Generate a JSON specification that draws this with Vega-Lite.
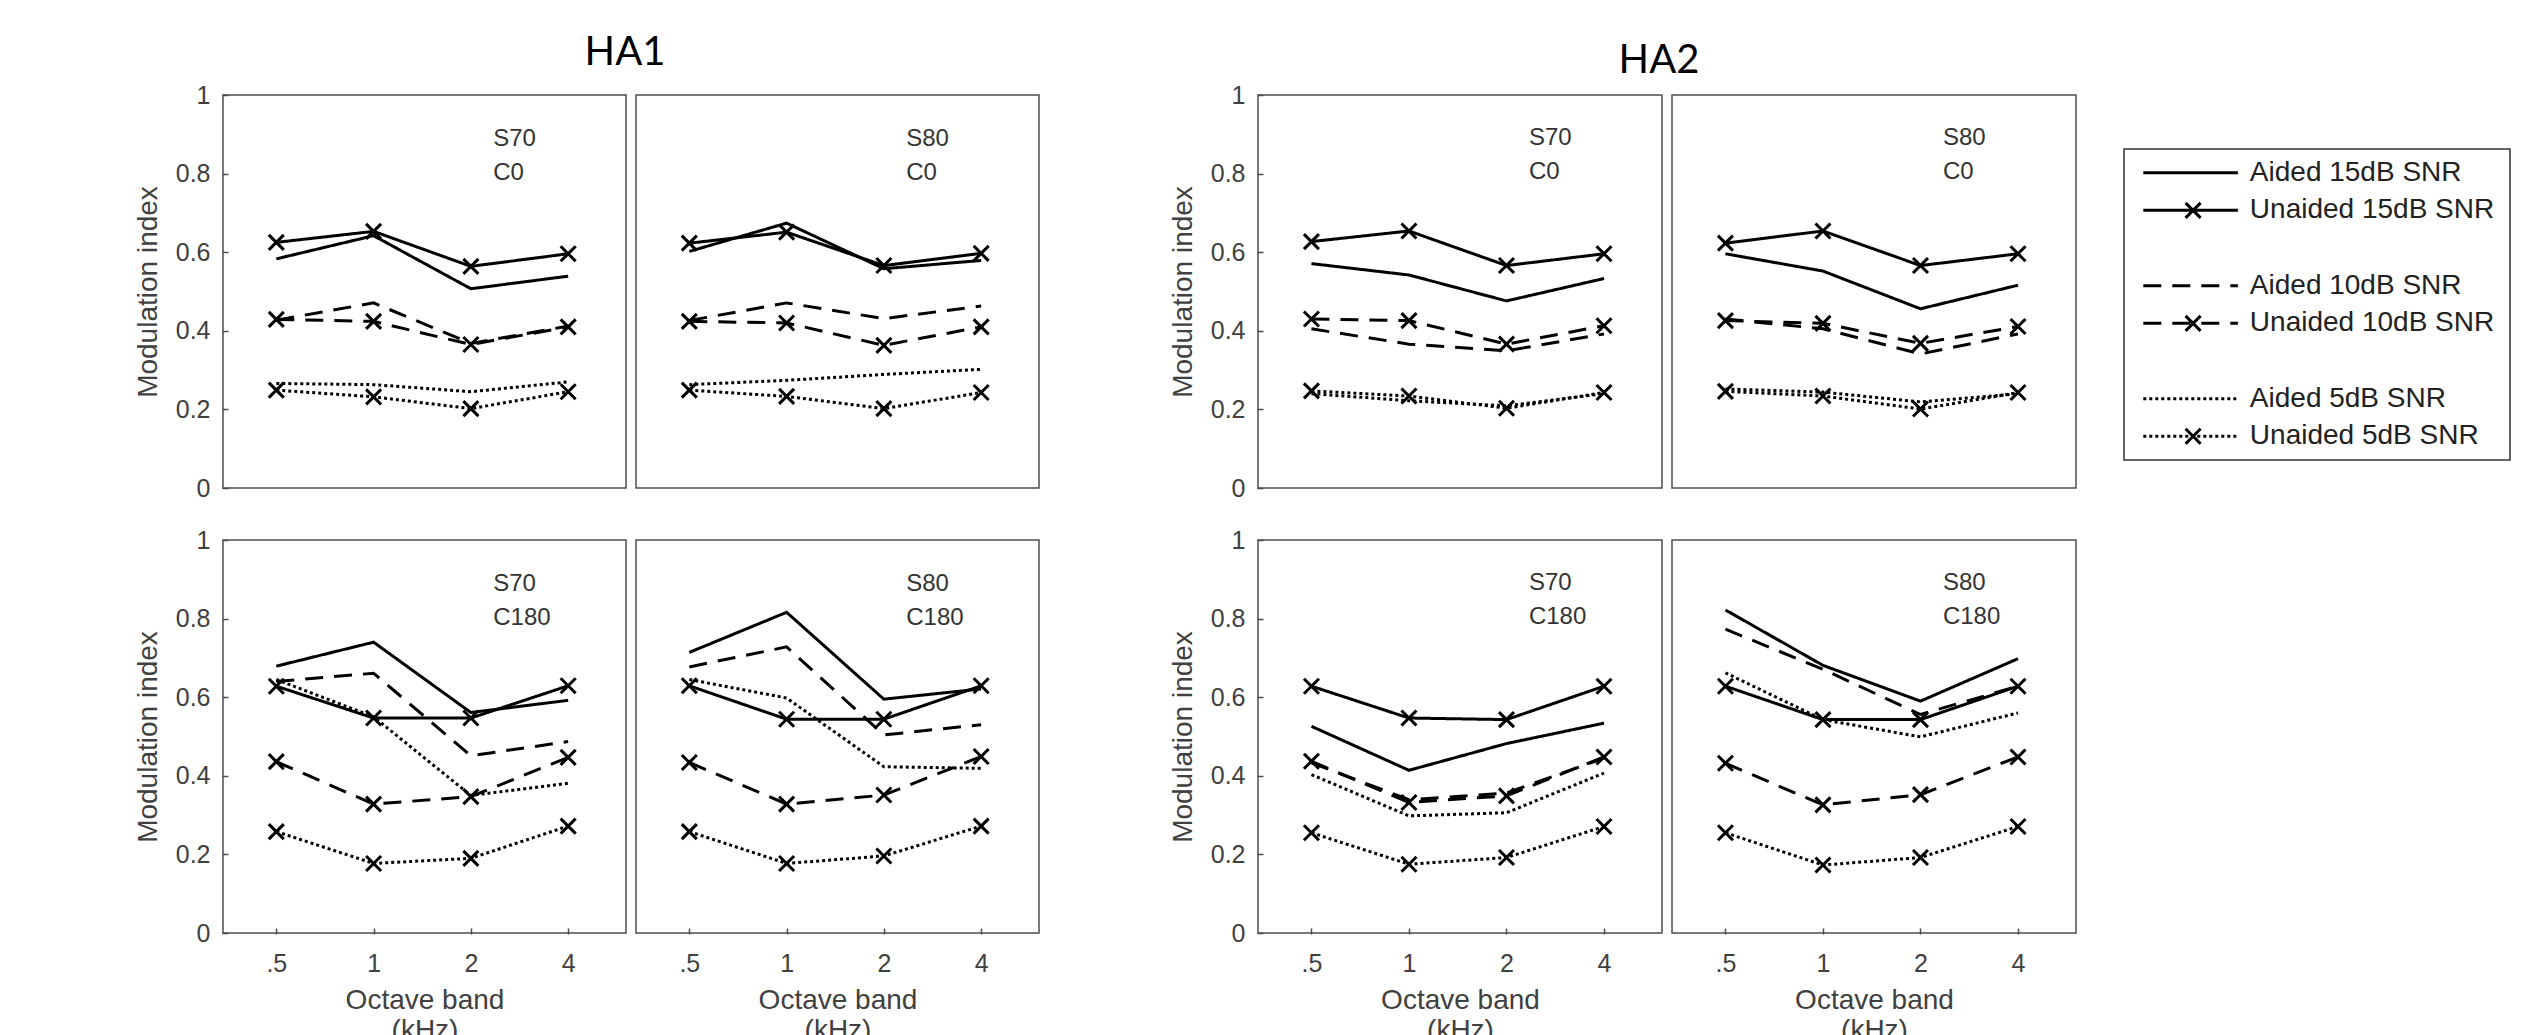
{
"$schema": "https://vega.github.io/schema/vega-lite/v6.json",
"background": "white",
"padding": {"left": 134, "top": 33, "right": 0, "bottom": 0},
"config": {
  "view": {"stroke": "#4d4d4d", "strokeWidth": 1.5},
  "font": "Liberation Sans",
  "axis": {"domain": false, "grid": false, "ticks": true, "tickColor": "#4d4d4d", "tickSize": -6, "tickWidth": 1.5, "labelColor": "#404040", "labelFont": "Liberation Sans", "labelFontSize": 25, "titleColor": "#404040", "titleFont": "Liberation Sans", "titleFontSize": 28, "titleFontWeight": "normal"}
},
"datasets": {
"main": [
{"ha":"HA1","s":"S70","c":"C0","aid":"Aided","snr":"15dB","band":0.5,"v":0.583},{"ha":"HA1","s":"S70","c":"C0","aid":"Aided","snr":"15dB","band":1,"v":0.642},{"ha":"HA1","s":"S70","c":"C0","aid":"Aided","snr":"15dB","band":2,"v":0.507},{"ha":"HA1","s":"S70","c":"C0","aid":"Aided","snr":"15dB","band":4,"v":0.539},
{"ha":"HA1","s":"S70","c":"C0","aid":"Unaided","snr":"15dB","band":0.5,"v":0.625},{"ha":"HA1","s":"S70","c":"C0","aid":"Unaided","snr":"15dB","band":1,"v":0.653},{"ha":"HA1","s":"S70","c":"C0","aid":"Unaided","snr":"15dB","band":2,"v":0.564},{"ha":"HA1","s":"S70","c":"C0","aid":"Unaided","snr":"15dB","band":4,"v":0.596},
{"ha":"HA1","s":"S70","c":"C0","aid":"Aided","snr":"10dB","band":0.5,"v":0.427},{"ha":"HA1","s":"S70","c":"C0","aid":"Aided","snr":"10dB","band":1,"v":0.471},{"ha":"HA1","s":"S70","c":"C0","aid":"Aided","snr":"10dB","band":2,"v":0.368},{"ha":"HA1","s":"S70","c":"C0","aid":"Aided","snr":"10dB","band":4,"v":0.412},
{"ha":"HA1","s":"S70","c":"C0","aid":"Unaided","snr":"10dB","band":0.5,"v":0.429},{"ha":"HA1","s":"S70","c":"C0","aid":"Unaided","snr":"10dB","band":1,"v":0.424},{"ha":"HA1","s":"S70","c":"C0","aid":"Unaided","snr":"10dB","band":2,"v":0.365},{"ha":"HA1","s":"S70","c":"C0","aid":"Unaided","snr":"10dB","band":4,"v":0.410},
{"ha":"HA1","s":"S70","c":"C0","aid":"Aided","snr":"5dB","band":0.5,"v":0.266},{"ha":"HA1","s":"S70","c":"C0","aid":"Aided","snr":"5dB","band":1,"v":0.263},{"ha":"HA1","s":"S70","c":"C0","aid":"Aided","snr":"5dB","band":2,"v":0.245},{"ha":"HA1","s":"S70","c":"C0","aid":"Aided","snr":"5dB","band":4,"v":0.270},
{"ha":"HA1","s":"S70","c":"C0","aid":"Unaided","snr":"5dB","band":0.5,"v":0.249},{"ha":"HA1","s":"S70","c":"C0","aid":"Unaided","snr":"5dB","band":1,"v":0.232},{"ha":"HA1","s":"S70","c":"C0","aid":"Unaided","snr":"5dB","band":2,"v":0.202},{"ha":"HA1","s":"S70","c":"C0","aid":"Unaided","snr":"5dB","band":4,"v":0.245},

{"ha":"HA1","s":"S80","c":"C0","aid":"Aided","snr":"15dB","band":0.5,"v":0.602},{"ha":"HA1","s":"S80","c":"C0","aid":"Aided","snr":"15dB","band":1,"v":0.674},{"ha":"HA1","s":"S80","c":"C0","aid":"Aided","snr":"15dB","band":2,"v":0.558},{"ha":"HA1","s":"S80","c":"C0","aid":"Aided","snr":"15dB","band":4,"v":0.579},
{"ha":"HA1","s":"S80","c":"C0","aid":"Unaided","snr":"15dB","band":0.5,"v":0.623},{"ha":"HA1","s":"S80","c":"C0","aid":"Unaided","snr":"15dB","band":1,"v":0.651},{"ha":"HA1","s":"S80","c":"C0","aid":"Unaided","snr":"15dB","band":2,"v":0.566},{"ha":"HA1","s":"S80","c":"C0","aid":"Unaided","snr":"15dB","band":4,"v":0.597},
{"ha":"HA1","s":"S80","c":"C0","aid":"Aided","snr":"10dB","band":0.5,"v":0.426},{"ha":"HA1","s":"S80","c":"C0","aid":"Aided","snr":"10dB","band":1,"v":0.471},{"ha":"HA1","s":"S80","c":"C0","aid":"Aided","snr":"10dB","band":2,"v":0.431},{"ha":"HA1","s":"S80","c":"C0","aid":"Aided","snr":"10dB","band":4,"v":0.463},
{"ha":"HA1","s":"S80","c":"C0","aid":"Unaided","snr":"10dB","band":0.5,"v":0.424},{"ha":"HA1","s":"S80","c":"C0","aid":"Unaided","snr":"10dB","band":1,"v":0.420},{"ha":"HA1","s":"S80","c":"C0","aid":"Unaided","snr":"10dB","band":2,"v":0.363},{"ha":"HA1","s":"S80","c":"C0","aid":"Unaided","snr":"10dB","band":4,"v":0.410},
{"ha":"HA1","s":"S80","c":"C0","aid":"Aided","snr":"5dB","band":0.5,"v":0.263},{"ha":"HA1","s":"S80","c":"C0","aid":"Aided","snr":"5dB","band":1,"v":0.274},{"ha":"HA1","s":"S80","c":"C0","aid":"Aided","snr":"5dB","band":2,"v":0.289},{"ha":"HA1","s":"S80","c":"C0","aid":"Aided","snr":"5dB","band":4,"v":0.302},
{"ha":"HA1","s":"S80","c":"C0","aid":"Unaided","snr":"5dB","band":0.5,"v":0.249},{"ha":"HA1","s":"S80","c":"C0","aid":"Unaided","snr":"5dB","band":1,"v":0.233},{"ha":"HA1","s":"S80","c":"C0","aid":"Unaided","snr":"5dB","band":2,"v":0.202},{"ha":"HA1","s":"S80","c":"C0","aid":"Unaided","snr":"5dB","band":4,"v":0.243},

{"ha":"HA1","s":"S70","c":"C180","aid":"Aided","snr":"15dB","band":0.5,"v":0.679},{"ha":"HA1","s":"S70","c":"C180","aid":"Aided","snr":"15dB","band":1,"v":0.740},{"ha":"HA1","s":"S70","c":"C180","aid":"Aided","snr":"15dB","band":2,"v":0.561},{"ha":"HA1","s":"S70","c":"C180","aid":"Aided","snr":"15dB","band":4,"v":0.592},
{"ha":"HA1","s":"S70","c":"C180","aid":"Unaided","snr":"15dB","band":0.5,"v":0.628},{"ha":"HA1","s":"S70","c":"C180","aid":"Unaided","snr":"15dB","band":1,"v":0.547},{"ha":"HA1","s":"S70","c":"C180","aid":"Unaided","snr":"15dB","band":2,"v":0.547},{"ha":"HA1","s":"S70","c":"C180","aid":"Unaided","snr":"15dB","band":4,"v":0.629},
{"ha":"HA1","s":"S70","c":"C180","aid":"Aided","snr":"10dB","band":0.5,"v":0.640},{"ha":"HA1","s":"S70","c":"C180","aid":"Aided","snr":"10dB","band":1,"v":0.661},{"ha":"HA1","s":"S70","c":"C180","aid":"Aided","snr":"10dB","band":2,"v":0.451},{"ha":"HA1","s":"S70","c":"C180","aid":"Aided","snr":"10dB","band":4,"v":0.487},
{"ha":"HA1","s":"S70","c":"C180","aid":"Unaided","snr":"10dB","band":0.5,"v":0.436},{"ha":"HA1","s":"S70","c":"C180","aid":"Unaided","snr":"10dB","band":1,"v":0.328},{"ha":"HA1","s":"S70","c":"C180","aid":"Unaided","snr":"10dB","band":2,"v":0.347},{"ha":"HA1","s":"S70","c":"C180","aid":"Unaided","snr":"10dB","band":4,"v":0.447},
{"ha":"HA1","s":"S70","c":"C180","aid":"Aided","snr":"5dB","band":0.5,"v":0.645},{"ha":"HA1","s":"S70","c":"C180","aid":"Aided","snr":"5dB","band":1,"v":0.550},{"ha":"HA1","s":"S70","c":"C180","aid":"Aided","snr":"5dB","band":2,"v":0.350},{"ha":"HA1","s":"S70","c":"C180","aid":"Aided","snr":"5dB","band":4,"v":0.381},
{"ha":"HA1","s":"S70","c":"C180","aid":"Unaided","snr":"5dB","band":0.5,"v":0.258},{"ha":"HA1","s":"S70","c":"C180","aid":"Unaided","snr":"5dB","band":1,"v":0.177},{"ha":"HA1","s":"S70","c":"C180","aid":"Unaided","snr":"5dB","band":2,"v":0.190},{"ha":"HA1","s":"S70","c":"C180","aid":"Unaided","snr":"5dB","band":4,"v":0.272},

{"ha":"HA1","s":"S80","c":"C180","aid":"Aided","snr":"15dB","band":0.5,"v":0.714},{"ha":"HA1","s":"S80","c":"C180","aid":"Aided","snr":"15dB","band":1,"v":0.816},{"ha":"HA1","s":"S80","c":"C180","aid":"Aided","snr":"15dB","band":2,"v":0.595},{"ha":"HA1","s":"S80","c":"C180","aid":"Aided","snr":"15dB","band":4,"v":0.621},
{"ha":"HA1","s":"S80","c":"C180","aid":"Unaided","snr":"15dB","band":0.5,"v":0.629},{"ha":"HA1","s":"S80","c":"C180","aid":"Unaided","snr":"15dB","band":1,"v":0.544},{"ha":"HA1","s":"S80","c":"C180","aid":"Unaided","snr":"15dB","band":2,"v":0.544},{"ha":"HA1","s":"S80","c":"C180","aid":"Unaided","snr":"15dB","band":4,"v":0.629},
{"ha":"HA1","s":"S80","c":"C180","aid":"Aided","snr":"10dB","band":0.5,"v":0.677},{"ha":"HA1","s":"S80","c":"C180","aid":"Aided","snr":"10dB","band":1,"v":0.728},{"ha":"HA1","s":"S80","c":"C180","aid":"Aided","snr":"10dB","band":2,"v":0.504},{"ha":"HA1","s":"S80","c":"C180","aid":"Aided","snr":"10dB","band":4,"v":0.530},
{"ha":"HA1","s":"S80","c":"C180","aid":"Unaided","snr":"10dB","band":0.5,"v":0.434},{"ha":"HA1","s":"S80","c":"C180","aid":"Unaided","snr":"10dB","band":1,"v":0.328},{"ha":"HA1","s":"S80","c":"C180","aid":"Unaided","snr":"10dB","band":2,"v":0.351},{"ha":"HA1","s":"S80","c":"C180","aid":"Unaided","snr":"10dB","band":4,"v":0.449},
{"ha":"HA1","s":"S80","c":"C180","aid":"Aided","snr":"5dB","band":0.5,"v":0.645},{"ha":"HA1","s":"S80","c":"C180","aid":"Aided","snr":"5dB","band":1,"v":0.598},{"ha":"HA1","s":"S80","c":"C180","aid":"Aided","snr":"5dB","band":2,"v":0.423},{"ha":"HA1","s":"S80","c":"C180","aid":"Aided","snr":"5dB","band":4,"v":0.419},
{"ha":"HA1","s":"S80","c":"C180","aid":"Unaided","snr":"5dB","band":0.5,"v":0.258},{"ha":"HA1","s":"S80","c":"C180","aid":"Unaided","snr":"5dB","band":1,"v":0.177},{"ha":"HA1","s":"S80","c":"C180","aid":"Unaided","snr":"5dB","band":2,"v":0.196},{"ha":"HA1","s":"S80","c":"C180","aid":"Unaided","snr":"5dB","band":4,"v":0.272},

{"ha":"HA2","s":"S70","c":"C0","aid":"Aided","snr":"15dB","band":0.5,"v":0.571},{"ha":"HA2","s":"S70","c":"C0","aid":"Aided","snr":"15dB","band":1,"v":0.542},{"ha":"HA2","s":"S70","c":"C0","aid":"Aided","snr":"15dB","band":2,"v":0.476},{"ha":"HA2","s":"S70","c":"C0","aid":"Aided","snr":"15dB","band":4,"v":0.533},
{"ha":"HA2","s":"S70","c":"C0","aid":"Unaided","snr":"15dB","band":0.5,"v":0.627},{"ha":"HA2","s":"S70","c":"C0","aid":"Unaided","snr":"15dB","band":1,"v":0.654},{"ha":"HA2","s":"S70","c":"C0","aid":"Unaided","snr":"15dB","band":2,"v":0.566},{"ha":"HA2","s":"S70","c":"C0","aid":"Unaided","snr":"15dB","band":4,"v":0.596},
{"ha":"HA2","s":"S70","c":"C0","aid":"Aided","snr":"10dB","band":0.5,"v":0.405},{"ha":"HA2","s":"S70","c":"C0","aid":"Aided","snr":"10dB","band":1,"v":0.366},{"ha":"HA2","s":"S70","c":"C0","aid":"Aided","snr":"10dB","band":2,"v":0.349},{"ha":"HA2","s":"S70","c":"C0","aid":"Aided","snr":"10dB","band":4,"v":0.392},
{"ha":"HA2","s":"S70","c":"C0","aid":"Unaided","snr":"10dB","band":0.5,"v":0.430},{"ha":"HA2","s":"S70","c":"C0","aid":"Unaided","snr":"10dB","band":1,"v":0.426},{"ha":"HA2","s":"S70","c":"C0","aid":"Unaided","snr":"10dB","band":2,"v":0.366},{"ha":"HA2","s":"S70","c":"C0","aid":"Unaided","snr":"10dB","band":4,"v":0.413},
{"ha":"HA2","s":"S70","c":"C0","aid":"Aided","snr":"5dB","band":0.5,"v":0.240},{"ha":"HA2","s":"S70","c":"C0","aid":"Aided","snr":"5dB","band":1,"v":0.222},{"ha":"HA2","s":"S70","c":"C0","aid":"Aided","snr":"5dB","band":2,"v":0.209},{"ha":"HA2","s":"S70","c":"C0","aid":"Aided","snr":"5dB","band":4,"v":0.240},
{"ha":"HA2","s":"S70","c":"C0","aid":"Unaided","snr":"5dB","band":0.5,"v":0.247},{"ha":"HA2","s":"S70","c":"C0","aid":"Unaided","snr":"5dB","band":1,"v":0.234},{"ha":"HA2","s":"S70","c":"C0","aid":"Unaided","snr":"5dB","band":2,"v":0.203},{"ha":"HA2","s":"S70","c":"C0","aid":"Unaided","snr":"5dB","band":4,"v":0.243},

{"ha":"HA2","s":"S80","c":"C0","aid":"Aided","snr":"15dB","band":0.5,"v":0.596},{"ha":"HA2","s":"S80","c":"C0","aid":"Aided","snr":"15dB","band":1,"v":0.552},{"ha":"HA2","s":"S80","c":"C0","aid":"Aided","snr":"15dB","band":2,"v":0.456},{"ha":"HA2","s":"S80","c":"C0","aid":"Aided","snr":"15dB","band":4,"v":0.516},
{"ha":"HA2","s":"S80","c":"C0","aid":"Unaided","snr":"15dB","band":0.5,"v":0.623},{"ha":"HA2","s":"S80","c":"C0","aid":"Unaided","snr":"15dB","band":1,"v":0.654},{"ha":"HA2","s":"S80","c":"C0","aid":"Unaided","snr":"15dB","band":2,"v":0.566},{"ha":"HA2","s":"S80","c":"C0","aid":"Unaided","snr":"15dB","band":4,"v":0.596},
{"ha":"HA2","s":"S80","c":"C0","aid":"Aided","snr":"10dB","band":0.5,"v":0.430},{"ha":"HA2","s":"S80","c":"C0","aid":"Aided","snr":"10dB","band":1,"v":0.405},{"ha":"HA2","s":"S80","c":"C0","aid":"Aided","snr":"10dB","band":2,"v":0.341},{"ha":"HA2","s":"S80","c":"C0","aid":"Aided","snr":"10dB","band":4,"v":0.392},
{"ha":"HA2","s":"S80","c":"C0","aid":"Unaided","snr":"10dB","band":0.5,"v":0.426},{"ha":"HA2","s":"S80","c":"C0","aid":"Unaided","snr":"10dB","band":1,"v":0.419},{"ha":"HA2","s":"S80","c":"C0","aid":"Unaided","snr":"10dB","band":2,"v":0.368},{"ha":"HA2","s":"S80","c":"C0","aid":"Unaided","snr":"10dB","band":4,"v":0.411},
{"ha":"HA2","s":"S80","c":"C0","aid":"Aided","snr":"5dB","band":0.5,"v":0.252},{"ha":"HA2","s":"S80","c":"C0","aid":"Aided","snr":"5dB","band":1,"v":0.244},{"ha":"HA2","s":"S80","c":"C0","aid":"Aided","snr":"5dB","band":2,"v":0.219},{"ha":"HA2","s":"S80","c":"C0","aid":"Aided","snr":"5dB","band":4,"v":0.240},
{"ha":"HA2","s":"S80","c":"C0","aid":"Unaided","snr":"5dB","band":0.5,"v":0.246},{"ha":"HA2","s":"S80","c":"C0","aid":"Unaided","snr":"5dB","band":1,"v":0.234},{"ha":"HA2","s":"S80","c":"C0","aid":"Unaided","snr":"5dB","band":2,"v":0.201},{"ha":"HA2","s":"S80","c":"C0","aid":"Unaided","snr":"5dB","band":4,"v":0.243},

{"ha":"HA2","s":"S70","c":"C180","aid":"Aided","snr":"15dB","band":0.5,"v":0.526},{"ha":"HA2","s":"S70","c":"C180","aid":"Aided","snr":"15dB","band":1,"v":0.414},{"ha":"HA2","s":"S70","c":"C180","aid":"Aided","snr":"15dB","band":2,"v":0.482},{"ha":"HA2","s":"S70","c":"C180","aid":"Aided","snr":"15dB","band":4,"v":0.534},
{"ha":"HA2","s":"S70","c":"C180","aid":"Unaided","snr":"15dB","band":0.5,"v":0.628},{"ha":"HA2","s":"S70","c":"C180","aid":"Unaided","snr":"15dB","band":1,"v":0.547},{"ha":"HA2","s":"S70","c":"C180","aid":"Unaided","snr":"15dB","band":2,"v":0.543},{"ha":"HA2","s":"S70","c":"C180","aid":"Unaided","snr":"15dB","band":4,"v":0.628},
{"ha":"HA2","s":"S70","c":"C180","aid":"Aided","snr":"10dB","band":0.5,"v":0.433},{"ha":"HA2","s":"S70","c":"C180","aid":"Aided","snr":"10dB","band":1,"v":0.339},{"ha":"HA2","s":"S70","c":"C180","aid":"Aided","snr":"10dB","band":2,"v":0.356},{"ha":"HA2","s":"S70","c":"C180","aid":"Aided","snr":"10dB","band":4,"v":0.445},
{"ha":"HA2","s":"S70","c":"C180","aid":"Unaided","snr":"10dB","band":0.5,"v":0.437},{"ha":"HA2","s":"S70","c":"C180","aid":"Unaided","snr":"10dB","band":1,"v":0.332},{"ha":"HA2","s":"S70","c":"C180","aid":"Unaided","snr":"10dB","band":2,"v":0.349},{"ha":"HA2","s":"S70","c":"C180","aid":"Unaided","snr":"10dB","band":4,"v":0.448},
{"ha":"HA2","s":"S70","c":"C180","aid":"Aided","snr":"5dB","band":0.5,"v":0.403},{"ha":"HA2","s":"S70","c":"C180","aid":"Aided","snr":"5dB","band":1,"v":0.298},{"ha":"HA2","s":"S70","c":"C180","aid":"Aided","snr":"5dB","band":2,"v":0.306},{"ha":"HA2","s":"S70","c":"C180","aid":"Aided","snr":"5dB","band":4,"v":0.407},
{"ha":"HA2","s":"S70","c":"C180","aid":"Unaided","snr":"5dB","band":0.5,"v":0.255},{"ha":"HA2","s":"S70","c":"C180","aid":"Unaided","snr":"5dB","band":1,"v":0.175},{"ha":"HA2","s":"S70","c":"C180","aid":"Unaided","snr":"5dB","band":2,"v":0.192},{"ha":"HA2","s":"S70","c":"C180","aid":"Unaided","snr":"5dB","band":4,"v":0.271},

{"ha":"HA2","s":"S80","c":"C180","aid":"Aided","snr":"15dB","band":0.5,"v":0.822},{"ha":"HA2","s":"S80","c":"C180","aid":"Aided","snr":"15dB","band":1,"v":0.681},{"ha":"HA2","s":"S80","c":"C180","aid":"Aided","snr":"15dB","band":2,"v":0.590},{"ha":"HA2","s":"S80","c":"C180","aid":"Aided","snr":"15dB","band":4,"v":0.698},
{"ha":"HA2","s":"S80","c":"C180","aid":"Unaided","snr":"15dB","band":0.5,"v":0.628},{"ha":"HA2","s":"S80","c":"C180","aid":"Unaided","snr":"15dB","band":1,"v":0.543},{"ha":"HA2","s":"S80","c":"C180","aid":"Unaided","snr":"15dB","band":2,"v":0.543},{"ha":"HA2","s":"S80","c":"C180","aid":"Unaided","snr":"15dB","band":4,"v":0.628},
{"ha":"HA2","s":"S80","c":"C180","aid":"Aided","snr":"10dB","band":0.5,"v":0.773},{"ha":"HA2","s":"S80","c":"C180","aid":"Aided","snr":"10dB","band":1,"v":0.671},{"ha":"HA2","s":"S80","c":"C180","aid":"Aided","snr":"10dB","band":2,"v":0.556},{"ha":"HA2","s":"S80","c":"C180","aid":"Aided","snr":"10dB","band":4,"v":0.628},
{"ha":"HA2","s":"S80","c":"C180","aid":"Unaided","snr":"10dB","band":0.5,"v":0.432},{"ha":"HA2","s":"S80","c":"C180","aid":"Unaided","snr":"10dB","band":1,"v":0.326},{"ha":"HA2","s":"S80","c":"C180","aid":"Unaided","snr":"10dB","band":2,"v":0.352},{"ha":"HA2","s":"S80","c":"C180","aid":"Unaided","snr":"10dB","band":4,"v":0.448},
{"ha":"HA2","s":"S80","c":"C180","aid":"Aided","snr":"5dB","band":0.5,"v":0.662},{"ha":"HA2","s":"S80","c":"C180","aid":"Aided","snr":"5dB","band":1,"v":0.543},{"ha":"HA2","s":"S80","c":"C180","aid":"Aided","snr":"5dB","band":2,"v":0.499},{"ha":"HA2","s":"S80","c":"C180","aid":"Aided","snr":"5dB","band":4,"v":0.560},
{"ha":"HA2","s":"S80","c":"C180","aid":"Unaided","snr":"5dB","band":0.5,"v":0.255},{"ha":"HA2","s":"S80","c":"C180","aid":"Unaided","snr":"5dB","band":1,"v":0.173},{"ha":"HA2","s":"S80","c":"C180","aid":"Unaided","snr":"5dB","band":2,"v":0.192},{"ha":"HA2","s":"S80","c":"C180","aid":"Unaided","snr":"5dB","band":4,"v":0.271}
],
"legend": [
{"label":"Aided 15dB SNR","aid":"Aided","snr":"15dB"},
{"label":"Unaided 15dB SNR","aid":"Unaided","snr":"15dB"},
{"label":"Aided 10dB SNR","aid":"Aided","snr":"10dB"},
{"label":"Unaided 10dB SNR","aid":"Unaided","snr":"10dB"},
{"label":"Aided 5dB SNR","aid":"Aided","snr":"5dB"},
{"label":"Unaided 5dB SNR","aid":"Unaided","snr":"5dB"}
]
},
"spacing": 129,
"hconcat": [
{
  "data": {"name": "main"},
  "transform": [{"filter": "datum.ha === 'HA1'"}],
  "title": {"text": "HA1", "font": "Lato", "fontSize": 40, "fontWeight": "normal", "color": "#000000", "offset": 10, "anchor": "middle", "dx": 38},
  "facet": {
    "row": {"field": "c", "type": "nominal", "sort": ["C0", "C180"], "header": null},
    "column": {"field": "s", "type": "nominal", "sort": ["S70", "S80"], "header": null}
  },
  "spacing": {"row": 50, "column": 8},
  "spec": {
    "width": 403, "height": 393,
    "layer": [
      {"mark": {"type": "line", "color": "black", "strokeWidth": 3},
       "encoding": {
         "x": {"field": "band", "type": "quantitative", "scale": {"type": "log", "base": 2, "domain": [0.342, 6.04], "nice": false}, "axis": {"values": [0.5, 1, 2, 4], "labelExpr": "datum.value == 0.5 ? '.5' : datum.label", "title": ["Octave band", "(kHz)"], "labelPadding": 23, "titlePadding": 10}},
         "y": {"field": "v", "type": "quantitative", "scale": {"domain": [0, 1], "nice": false}, "axis": {"values": [0, 0.2, 0.4, 0.6, 0.8, 1], "format": "~g", "title": "Modulation index", "labelPadding": 18, "titlePadding": 13}},
         "strokeDash": {"field": "snr", "type": "nominal", "scale": {"domain": ["15dB", "10dB", "5dB"], "range": [[1, 0], [18, 11], [3, 3]]}, "legend": null},
         "detail": {"field": "aid", "type": "nominal"}
       }},
      {"transform": [{"filter": "datum.aid === 'Unaided'"}],
       "mark": {"type": "point", "shape": "M-1,-1L1,1M-1,1L1,-1", "filled": false, "size": 225, "stroke": "black", "strokeWidth": 3, "opacity": 1},
       "encoding": {"x": {"field": "band", "type": "quantitative"}, "y": {"field": "v", "type": "quantitative"}}},
      {"transform": [{"filter": "datum.band === 0.5 && datum.aid === 'Aided' && datum.snr === '15dB'"}],
       "mark": {"type": "text", "align": "left", "baseline": "middle", "fontSize": 24, "color": "#333333"},
       "encoding": {"x": {"datum": 2.345}, "y": {"datum": 0.887}, "text": {"field": "s"}}},
      {"transform": [{"filter": "datum.band === 0.5 && datum.aid === 'Aided' && datum.snr === '15dB'"}],
       "mark": {"type": "text", "align": "left", "baseline": "middle", "fontSize": 24, "color": "#333333"},
       "encoding": {"x": {"datum": 2.345}, "y": {"datum": 0.802}, "text": {"field": "c"}}}
    ]
  }
},
{
  "spacing": 46,
  "hconcat": [
    {
      "data": {"name": "main"},
      "transform": [{"filter": "datum.ha === 'HA2'"}],
      "title": {"text": "HA2", "font": "Lato", "fontSize": 40, "fontWeight": "normal", "color": "#000000", "offset": 2, "anchor": "middle", "dx": 36},
      "facet": {
        "row": {"field": "c", "type": "nominal", "sort": ["C0", "C180"], "header": null},
        "column": {"field": "s", "type": "nominal", "sort": ["S70", "S80"], "header": null}
      },
      "spacing": {"row": 50, "column": 8},
      "spec": {
        "width": 404, "height": 393,
        "layer": [
          {"mark": {"type": "line", "color": "black", "strokeWidth": 3},
           "encoding": {
             "x": {"field": "band", "type": "quantitative", "scale": {"type": "log", "base": 2, "domain": [0.342, 6.04], "nice": false}, "axis": {"values": [0.5, 1, 2, 4], "labelExpr": "datum.value == 0.5 ? '.5' : datum.label", "title": ["Octave band", "(kHz)"], "labelPadding": 23, "titlePadding": 10}},
             "y": {"field": "v", "type": "quantitative", "scale": {"domain": [0, 1], "nice": false}, "axis": {"values": [0, 0.2, 0.4, 0.6, 0.8, 1], "format": "~g", "title": "Modulation index", "labelPadding": 18, "titlePadding": 13}},
             "strokeDash": {"field": "snr", "type": "nominal", "scale": {"domain": ["15dB", "10dB", "5dB"], "range": [[1, 0], [18, 11], [3, 3]]}, "legend": null},
             "detail": {"field": "aid", "type": "nominal"}
           }},
          {"transform": [{"filter": "datum.aid === 'Unaided'"}],
           "mark": {"type": "point", "shape": "M-1,-1L1,1M-1,1L1,-1", "filled": false, "size": 225, "stroke": "black", "strokeWidth": 3, "opacity": 1},
           "encoding": {"x": {"field": "band", "type": "quantitative"}, "y": {"field": "v", "type": "quantitative"}}},
          {"transform": [{"filter": "datum.band === 0.5 && datum.aid === 'Aided' && datum.snr === '15dB'"}],
           "mark": {"type": "text", "align": "left", "baseline": "middle", "fontSize": 24, "color": "#333333"},
           "encoding": {"x": {"datum": 2.345}, "y": {"datum": 0.89}, "text": {"field": "s"}}},
          {"transform": [{"filter": "datum.band === 0.5 && datum.aid === 'Aided' && datum.snr === '15dB'"}],
           "mark": {"type": "text", "align": "left", "baseline": "middle", "fontSize": 24, "color": "#333333"},
           "encoding": {"x": {"datum": 2.345}, "y": {"datum": 0.805}, "text": {"field": "c"}}}
        ]
      }
    },
    {
      "spacing": 20,
      "vconcat": [
        {
          "data": {"values": []},
          "width": 386, "height": 33,
          "view": {"stroke": null},
          "mark": {"type": "point", "opacity": 0},
          "encoding": {}
        },
        {
          "data": {"name": "legend"},
          "width": 386, "height": 311,
          "view": {"stroke": "#333333", "strokeWidth": 1.5},
          "layer": [
            {"mark": {"type": "rule", "color": "black", "strokeWidth": 3},
             "encoding": {
               "y": {"field": "label", "type": "nominal", "scale": {"type": "point", "domain": ["Aided 15dB SNR", "Unaided 15dB SNR", "gap1", "Aided 10dB SNR", "Unaided 10dB SNR", "gap2", "Aided 5dB SNR", "Unaided 5dB SNR"], "padding": 0.63}, "axis": null},
               "x": {"datum": 0.5, "type": "quantitative", "scale": {"domain": [0, 10], "nice": false}, "axis": null},
               "x2": {"datum": 2.95},
               "strokeDash": {"field": "snr", "type": "nominal", "scale": {"domain": ["15dB", "10dB", "5dB"], "range": [[1, 0], [18, 11], [3, 3]]}, "legend": null}
             }},
            {"transform": [{"filter": "datum.aid === 'Unaided'"}],
             "mark": {"type": "point", "shape": "M-1,-1L1,1M-1,1L1,-1", "filled": false, "size": 225, "stroke": "black", "strokeWidth": 3, "opacity": 1},
             "encoding": {"y": {"field": "label", "type": "nominal"}, "x": {"datum": 1.79, "type": "quantitative"}}},
            {"mark": {"type": "text", "align": "left", "baseline": "middle", "fontSize": 28, "color": "#222222"},
             "encoding": {"y": {"field": "label", "type": "nominal"}, "x": {"datum": 3.26, "type": "quantitative"}, "text": {"field": "label"}}}
          ]
        }
      ]
    }
  ]
}
]
}
